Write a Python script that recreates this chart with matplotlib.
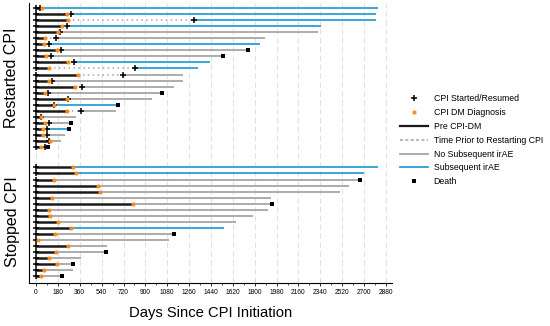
import numpy as np
import matplotlib
matplotlib.use("Agg")
import matplotlib.pyplot as plt
from matplotlib.lines import Line2D
import matplotlib.transforms as mtransforms

plt.rcParams['font.family'] = ['Liberation Sans', 'DejaVu Sans']

# ---- datos: pacientes que reiniciaron CPI (de arriba hacia abajo) ----
rs_dm = [47, 258, 266, 217, 184, 74, 69, 170, 80, 266, 110, 343,
         110, 321, 74, 253, 146, 253, 41, 74, 55, 60, 115, 41]
rs_resume = [33, 288, 1301, 253, 198, 165, 107, 203, 121, 316, 815, 714,
             134, 382, 96, 262, 146, 368, 41, 107, 88, 88, 110, 70]
rs_end = [2811, 2800, 2800, 2345, 2320, 1886, 1845, 1746, 1543, 1433, 1329, 1213,
          1208, 1137, 1035, 953, 678, 660, 329, 287, 275, 236, 206, 95]
rs_irae = [1, 1, 1, 1, 0, 0, 1, 0, 0, 1, 1, 0, 0, 0, 0, 0, 1, 0, 0, 0, 1, 0, 0, 0]
rs_death = [0, 0, 0, 0, 0, 0, 0, 1, 1, 0, 0, 0, 0, 0, 1, 0, 1, 0, 0, 1, 1, 0, 0, 1]

# ---- datos: pacientes que detuvieron CPI ----
st_dm = [302, 329, 146, 508, 527, 129, 796, 110, 115, 184, 286, 156,
         19, 266, 162, 107, 176, 69, 41]
st_end = [2811, 2696, 2668, 2580, 2498, 1932, 1940, 1908, 1785, 1647, 1551, 1139,
          1098, 582, 577, 368, 302, 302, 217]
st_irae = [1, 1, 0, 0, 0, 0, 0, 0, 0, 0, 1, 0, 0, 0, 0, 0, 0, 0, 0]
st_death = [0, 0, 1, 0, 0, 0, 1, 0, 0, 0, 0, 1, 0, 0, 1, 0, 1, 0, 1]

xticks = np.arange(0, 2881, 180)

# colores
c_pre = '#1a1a1a'
c_gray = '#a6a6a6'
c_blue = '#2a9fd6'
c_orange = '#ff8c1a'

fig = plt.figure(figsize=(5.5, 3.26), dpi=100)
ax = fig.add_axes([29/550, 1 - 283/326, (392-29)/550, (283-3)/326])

n_st = len(st_dm)
gap = 2.4
y_st = [n_st - 1 - i for i in range(n_st)]
y_rs = [n_st - 1 + gap + (len(rs_dm) - i) for i in range(len(rs_dm))]


def fila(y, dm, resume, end, irae, death):
    ax.plot([0, dm], [y, y], color=c_pre, lw=1.8, solid_capstyle='butt', zorder=3)
    inicio = dm
    if resume is not None and resume > dm:
        ax.plot([dm, resume], [y, y], color=c_gray, lw=1.1, ls=(0, (1, 2.2)), zorder=2)
        inicio = resume
    ax.plot([inicio, end], [y, y], color=c_blue if irae else c_gray, lw=1.3,
            solid_capstyle='butt', zorder=2)
    ax.plot(0, y, marker='+', color='black', ms=5, mew=1.1, zorder=5)
    if resume is not None:
        ax.plot(resume, y, marker='+', color='black', ms=5, mew=1.1, zorder=5)
    ax.plot(dm, y, marker='o', color=c_orange, ms=3, mew=0, zorder=6)
    if death:
        ax.plot(end, y, marker='s', color='black', ms=3.4, mew=0, zorder=6)


for i in range(len(rs_dm)):
    fila(y_rs[i], rs_dm[i], rs_resume[i], rs_end[i], rs_irae[i], rs_death[i])
for i in range(n_st):
    fila(y_st[i], st_dm[i], None, st_end[i], st_irae[i], st_death[i])

ax.set_xlim(-58, 2930)
ax.set_ylim(-1.15, y_rs[0] + 0.85)
ax.set_xticks(xticks)
ax.set_xticks(xticks[:-1] + 90, minor=True)
ax.tick_params(axis='x', labelsize=4.8, length=2.5, width=0.6, pad=2)
ax.tick_params(axis='x', which='minor', length=1.5, width=0.5)
ax.set_yticks([])
for x in xticks:
    ax.axvline(x, color='#e2e2e2', lw=0.8, ls=(0, (5, 3)), zorder=0)
ax.spines['top'].set_visible(False)
ax.spines['right'].set_visible(False)
ax.spines['left'].set_linewidth(0.8)
ax.spines['bottom'].set_linewidth(0.8)
ax.set_xlabel('Days Since CPI Initiation', fontsize=10.6, labelpad=7)

trans = mtransforms.blended_transform_factory(fig.transFigure, ax.transData)
ax.text(12/550, (y_rs[0] + y_rs[-1]) / 2, 'Restarted CPI', rotation=90, fontsize=11.5,
        ha='center', va='center', transform=trans)
ax.text(12/550, (y_st[0] + y_st[-1]) / 2, 'Stopped CPI', rotation=90, fontsize=11.5,
        ha='center', va='center', transform=trans)

handles = [
    Line2D([], [], ls='none', marker='+', color='black', ms=5, mew=1.1),
    Line2D([], [], ls='none', marker='o', color=c_orange, ms=3, mew=0),
    Line2D([], [], color=c_pre, lw=1.6),
    Line2D([], [], color=c_gray, lw=1.1, ls=(0, (2, 1.5))),
    Line2D([], [], color=c_gray, lw=1.3),
    Line2D([], [], color=c_blue, lw=1.3),
    Line2D([], [], ls='none', marker='s', color='black', ms=3.4, mew=0),
]
labels = ['CPI Started/Resumed', 'CPI DM Diagnosis', 'Pre CPI-DM',
          'Time Prior to Restarting CPI', 'No Subsequent irAE', 'Subsequent irAE', 'Death']
fig.legend(handles, labels, loc='upper left', bbox_to_anchor=(396/550, 1 - 90/326),
           frameon=False, fontsize=6.3, handlelength=3.2, handletextpad=0.6,
           labelspacing=0.55, borderpad=0)

fig.savefig('out.png', dpi=100)
